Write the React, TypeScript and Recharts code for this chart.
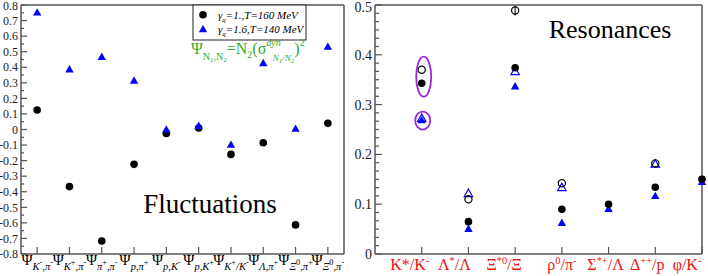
import React from 'react';
import { ScatterChart, Scatter, XAxis, YAxis, ErrorBar } from 'recharts';

// ---- fluctuations panel ----
const fluctLabels = [
  'Ψ_{K}~{-}_{,π}~{-}',
  'Ψ_{K}~{+}_{,π}~{-}',
  'Ψ_{π}~{+}_{,π}~{-}',
  'Ψ_{p,π}~{+}',
  'Ψ_{p,K}~{-}',
  'Ψ_{p,K}~{+}',
  'Ψ_{K}~{+}_{/K}~{-}',
  'Ψ_{Λ,π}~{+}',
  'Ψ_{Ξ}~{0}_{,π}~{+}',
  'Ψ_{Ξ}~{0}_{,π}~{-}',
];
const fluctGamma1 = [0.125, -0.367, -0.716, -0.224, -0.025, 0.01, -0.16, -0.085, -0.613, 0.04];
const fluctGamma16 = [0.75, 0.385, 0.465, 0.312, -0.003, 0.022, -0.1, 0.425, 0.003, 0.53];
const fluctYMajor = [-0.8, -0.7, -0.6, -0.5, -0.4, -0.3, -0.2, -0.1, 0, 0.1, 0.2, 0.3, 0.4, 0.5, 0.6, 0.7, 0.8];

// ---- resonances panel ----
const resLabels = ['K*/K^{-}', 'Λ^{*}/Λ', 'Ξ^{*0}/Ξ', 'ρ^{0}/π^{-}', 'Σ^{*+}/Λ', 'Δ^{++}/p', 'φ/K^{-}'];
const resGamma1 = [0.343, 0.065, 0.374, 0.09, 0.1, 0.134, 0.15];
const resGamma16 = [0.268, 0.05, 0.336, 0.062, 0.09, 0.116, 0.144];
const resGamma1Open = [0.37, 0.11, 0.489, 0.142, null, 0.182, null];
const resGamma1OpenErr = [0, 0, 0.01, 0, 0, 0, 0];
const resGamma16Open = [0.272, 0.121, 0.366, 0.133, null, 0.18, null];
const resYMajor = [0, 0.1, 0.2, 0.3, 0.4, 0.5];
const resHighlightCircles = [0.356];
const resHighlightTriangles = [0.268];

const legendNames = ['=1.,T=160 MeV', '=1.6,T=140 MeV'];

const SERIF = '"Liberation Serif", "DejaVu Serif", serif';
const AXIS = '#555';
const BLUE = '#0000ff';
const RED = '#ee1111';
const GREEN = '#2faa2f';
const PURPLE = '#9a2bd0';

const withMinor = (majors: number[], n: number) => {
  const out: number[] = [];
  majors.forEach((m, i) => {
    out.push(m);
    if (i < majors.length - 1) {
      const step = (majors[i + 1] - m) / (n + 1);
      for (let k = 1; k <= n; k++) out.push(m + k * step);
    }
  });
  return out;
};

const isMajor = (v: number) => Math.abs(v * 10 - Math.round(v * 10)) < 1e-6;
const fmt = (v: number) => {
  const r = Math.round(v * 10) / 10;
  return r === 0 ? '0' : String(r);
};

const toPts = (vals: (number | null)[], extra?: number[]) =>
  vals
    .map((v, i) => (v === null ? null : { x: i + 1, y: v, err: extra ? extra[i] : 0 }))
    .filter(Boolean) as { x: number; y: number; err: number }[];

// simple markup: _{sub} ~{sup in sub} ^{sup}
const SHIFT = [0, 0.32, 0.02, -0.38];
const SIZE = [1, 0.7, 0.55, 0.65];
const parse = (s: string) => {
  const out: { t: string; lvl: number }[] = [];
  const re = /([_^~])\{([^}]*)\}|([^_^~]+)/g;
  let m: RegExpExecArray | null;
  while ((m = re.exec(s))) {
    if (m[3]) out.push({ t: m[3], lvl: 0 });
    else out.push({ t: m[2], lvl: m[1] === '_' ? 1 : m[1] === '~' ? 2 : 3 });
  }
  return out;
};

const Rich = ({ x, y, s, fs, fill, italicSub }: any) => {
  let prev = 0;
  return (
    <text x={x} y={y} textAnchor="middle" fontSize={fs} fill={fill} fontFamily={SERIF}>
      {parse(s).map((seg, i) => {
        const sh = SHIFT[seg.lvl] * fs;
        const dy = sh - prev;
        prev = sh;
        return (
          <tspan key={i} dy={dy} fontSize={SIZE[seg.lvl] * fs} fontStyle={italicSub && seg.lvl === 1 ? 'italic' : 'normal'}>
            {seg.t}
          </tspan>
        );
      })}
    </text>
  );
};

const yTick = (side: 'left' | 'right', majorLen: number, minorLen: number, fs: number) => (props: any) => {
  const { x, y, payload } = props;
  const v = payload.value;
  const major = isMajor(v);
  const dir = side === 'left' ? 1 : -1;
  return (
    <g>
      <line x1={x} x2={x + dir * (major ? majorLen : minorLen)} y1={y} y2={y} stroke={AXIS} strokeWidth={1.2} />
      {side === 'left' && major && (
        <text x={x - 3} y={Math.max(y, fs * 0.5)} dy="0.35em" textAnchor="end" fontSize={fs} fill="#222" fontFamily={SERIF}>
          {fmt(v)}
        </text>
      )}
    </g>
  );
};

const topTick = (len: number) => (props: any) => (
  <line x1={props.x} x2={props.x} y1={props.y} y2={props.y + len} stroke={AXIS} strokeWidth={1.2} />
);

const fluctXTick = (props: any) => {
  const { x, y, payload } = props;
  const label = fluctLabels[payload.value - 1];
  return (
    <g>
      <line x1={x} x2={x} y1={y} y2={y - 7} stroke={AXIS} strokeWidth={1.2} />
      {label && <Rich x={x} y={y + 11} s={label} fs={15} fill="#000" italicSub />}
    </g>
  );
};

const resLabelShift = [-12, -14, -11, 0, -3, -8, -15];
const resXTick = (props: any) => {
  const { x, y, payload } = props;
  const i = payload.value - 1;
  return (
    <g>
      <line x1={x} x2={x} y1={y} y2={y - 7} stroke={AXIS} strokeWidth={1.2} />
      {resLabels[i] && <Rich x={x + resLabelShift[i]} y={y + 16} s={resLabels[i]} fs={16} fill={RED} />}
    </g>
  );
};

const Dot = (p: any) => <circle cx={p.cx} cy={p.cy} r={3.8} fill="#000" />;
const OpenDot = (p: any) => <circle cx={p.cx} cy={p.cy} r={3.6} fill="none" stroke="#000" strokeWidth={1.2} />;
const triPoints = (cx: number, cy: number) => `${cx},${cy - 4.6} ${cx - 4.2},${cy + 2.8} ${cx + 4.2},${cy + 2.8}`;
const Tri = (p: any) => <polygon points={triPoints(p.cx, p.cy)} fill={BLUE} />;
const OpenTri = (p: any) => <polygon points={triPoints(p.cx, p.cy)} fill="none" stroke={BLUE} strokeWidth={1.2} />;
const bigEllipse = (p: any) => <ellipse cx={p.cx + 2} cy={p.cy} rx={7.5} ry={20} fill="none" stroke={PURPLE} strokeWidth={1.8} />;
const smallEllipse = (p: any) => <ellipse cx={p.cx + 1} cy={p.cy} rx={7.5} ry={9} fill="none" stroke={PURPLE} strokeWidth={1.8} />;

const axisLine = { stroke: AXIS, strokeWidth: 1.5 };

export default function App() {
  const fluctX = fluctLabels.map((_, i) => i + 1);
  const resX = resLabels.map((_, i) => i + 1);
  const fluctYAll = withMinor(fluctYMajor, 1);
  const resYAll = withMinor(resYMajor, 5);

  return (
    <div style={{ position: 'absolute', left: 0, top: 0, width: 708, height: 276, background: '#fff' }}>
      <div style={{ position: 'absolute', left: 0, top: 0 }}>
        <ScatterChart width={350} height={276} margin={{ top: 4, right: 5, bottom: 0, left: 0 }}>
          <XAxis xAxisId="b" type="number" dataKey="x" domain={[0.5, 10.5]} ticks={fluctX} interval={0} height={22}
            tickSize={0} tickMargin={0} tickLine={false} axisLine={axisLine} tick={fluctXTick} />
          <XAxis xAxisId="t" orientation="top" type="number" dataKey="x" domain={[0.5, 10.5]} ticks={fluctX} interval={0} height={1}
            tickSize={0} tickMargin={0} tickLine={false} axisLine={axisLine} tick={topTick(7)} />
          <YAxis yAxisId="l" type="number" dataKey="y" domain={[-0.8, 0.8]} ticks={fluctYAll} interval={0} width={21}
            tickSize={0} tickMargin={0} tickLine={false} axisLine={axisLine} tick={yTick('left', 6, 3, 12)} />
          <YAxis yAxisId="r" orientation="right" type="number" dataKey="y" domain={[-0.8, 0.8]} ticks={fluctYAll} interval={0} width={1}
            tickSize={0} tickMargin={0} tickLine={false} axisLine={axisLine} tick={yTick('right', 6, 3, 12)} />
          <Scatter xAxisId="b" yAxisId="l" data={toPts(fluctGamma1)} shape={Dot} isAnimationActive={false} />
          <Scatter xAxisId="b" yAxisId="l" data={toPts(fluctGamma16)} shape={Tri} isAnimationActive={false} />
        </ScatterChart>
      </div>
      <div style={{ position: 'absolute', left: 350, top: 0 }}>
        <ScatterChart width={358} height={276} margin={{ top: 4, right: 5, bottom: 0, left: 0 }}>
          <XAxis xAxisId="b" type="number" dataKey="x" domain={[0, 7]} ticks={resX} interval={0} height={22}
            tickSize={0} tickMargin={0} tickLine={false} axisLine={axisLine} tick={resXTick} />
          <XAxis xAxisId="t" orientation="top" type="number" dataKey="x" domain={[0, 7]} ticks={resX} interval={0} height={1}
            tickSize={0} tickMargin={0} tickLine={false} axisLine={axisLine} tick={topTick(7)} />
          <YAxis yAxisId="l" type="number" dataKey="y" domain={[0, 0.5]} ticks={resYAll} interval={0} width={25}
            tickSize={0} tickMargin={0} tickLine={false} axisLine={axisLine} tick={yTick('left', 7, 4, 14)} />
          <YAxis yAxisId="r" orientation="right" type="number" dataKey="y" domain={[0, 0.5]} ticks={resYAll} interval={0} width={1}
            tickSize={0} tickMargin={0} tickLine={false} axisLine={axisLine} tick={yTick('right', 7, 4, 14)} />
          <Scatter xAxisId="b" yAxisId="l" data={toPts(resGamma16Open)} shape={OpenTri} isAnimationActive={false} />
          <Scatter xAxisId="b" yAxisId="l" data={toPts(resGamma1Open, resGamma1OpenErr)} shape={OpenDot} isAnimationActive={false}>
            <ErrorBar dataKey="err" direction="y" width={0} stroke="#000" strokeWidth={1} />
          </Scatter>
          <Scatter xAxisId="b" yAxisId="l" data={toPts(resGamma16)} shape={Tri} isAnimationActive={false} />
          <Scatter xAxisId="b" yAxisId="l" data={toPts(resGamma1)} shape={Dot} isAnimationActive={false} />
          <Scatter xAxisId="b" yAxisId="l" data={resHighlightCircles.map((y) => ({ x: 1, y }))} shape={bigEllipse} isAnimationActive={false} />
          <Scatter xAxisId="b" yAxisId="l" data={resHighlightTriangles.map((y) => ({ x: 1, y }))} shape={smallEllipse} isAnimationActive={false} />
        </ScatterChart>
      </div>
      <svg width={708} height={276} style={{ position: 'absolute', left: 0, top: 0, pointerEvents: 'none' }}>
        {/* legend */}
        <rect x={193} y={5} width={113} height={35} fill="#fff" stroke="#222" strokeWidth={1} />
        <circle cx={203} cy={14.7} r={3.8} fill="#000" />
        <polygon points={triPoints(203, 29.5)} fill={BLUE} />
        {legendNames.map((name, i) => (
          <text key={i} x={218} y={18.5 + i * 14.6} fontSize={11} fontStyle="italic" fontFamily={SERIF} fill="#000">
            γ<tspan dy={3} fontSize={7}>q</tspan>
            <tspan dy={-3}>{name}</tspan>
          </text>
        ))}
        {/* formula */}
        <text x={191} y={54} fontFamily={SERIF} fill={GREEN} fontSize={16}>
          Ψ
          <tspan dy={6} fontSize={10}>N</tspan>
          <tspan dy={2} fontSize={7}>1</tspan>
          <tspan dy={-2} fontSize={10}>,N</tspan>
          <tspan dy={2} fontSize={7}>2</tspan>
          <tspan dy={-8} fontSize={16}>=N</tspan>
          <tspan dy={4} fontSize={10}>2</tspan>
          <tspan dy={-4} fontSize={16}>(σ</tspan>
          <tspan dy={-8} fontSize={10} fontStyle="italic">dyn</tspan>
          <tspan dx={-8} dy={15} fontSize={9} fontStyle="italic">N</tspan>
          <tspan dy={2} fontSize={7} fontStyle="italic">1</tspan>
          <tspan dy={-2} fontSize={9} fontStyle="italic">/N</tspan>
          <tspan dy={2} fontSize={7} fontStyle="italic">2</tspan>
          <tspan dy={-9} fontSize={16}>)</tspan>
          <tspan dy={-8} fontSize={10}>2</tspan>
        </text>
        <text x={210} y={213} textAnchor="middle" fontSize={27} fontFamily={SERIF} fill="#000">Fluctuations</text>
        <text x={610} y={38} textAnchor="middle" fontSize={26} fontFamily={SERIF} fill="#000">Resonances</text>
      </svg>
    </div>
  );
}
